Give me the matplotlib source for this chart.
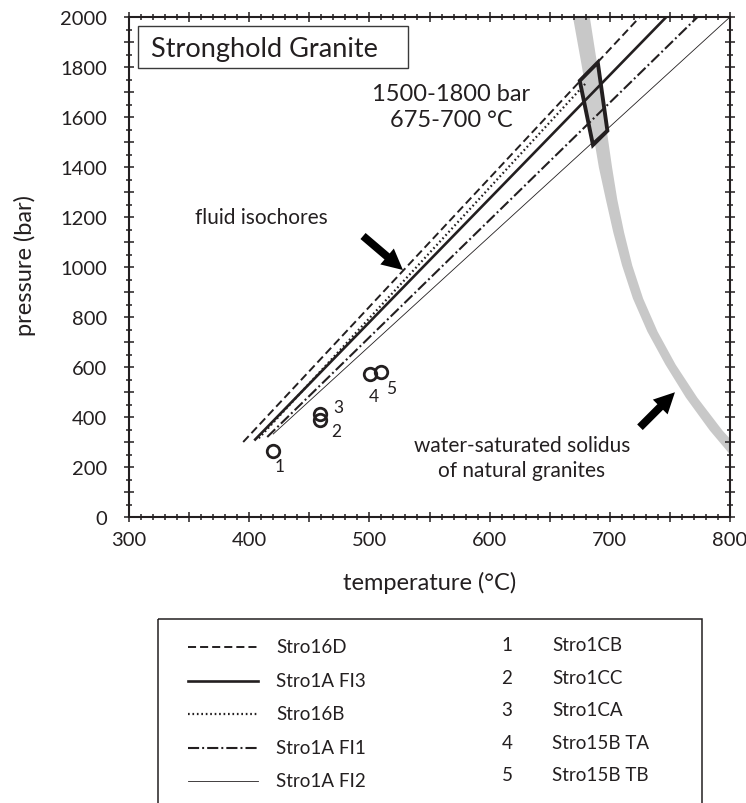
import matplotlib
matplotlib.use('Agg')
import matplotlib.pyplot as plt
from matplotlib.patches import Polygon, Rectangle, FancyArrowPatch, ArrowStyle
from matplotlib.ticker import MultipleLocator, FuncFormatter

plt.rcParams['font.family'] = ['Lato', 'DejaVu Sans']
plt.rcParams['lines.scale_dashes'] = False

INK = '#231f20'

# ---------------- data ----------------
iso_names = ['Stro16D', 'Stro1A FI3', 'Stro16B', 'Stro1A FI1', 'Stro1A FI2']
iso_T_start = [395, 405, 408, 415, 420]
iso_P_start = [300, 310, 315, 320, 332]
iso_T_end = [725, 747, 680, 773, 800]
iso_P_end = [2000, 2000, 1735, 2000, 2000]

incl_ids = ['1', '2', '3', '4', '5']
incl_names = ['Stro1CB', 'Stro1CC', 'Stro1CA', 'Stro15B TA', 'Stro15B TB']
incl_T = [419.5, 459, 459, 500.5, 510]
incl_P = [265, 389, 412, 572, 579]

solidus_P = [2100, 2000, 1800, 1600, 1400, 1272, 1140, 1008, 876, 744, 612, 480, 348, 250]
solidus_T_left = [666, 669, 676.5, 683.5, 690.5, 696.3, 702.5, 709.8, 718.8, 730.8, 745.8, 762.8, 782.8, 800]
solidus_T_right = [680, 683, 689.5, 695.5, 701.5, 705.8, 711.5, 718.3, 727.3, 739.3, 754.3, 772.3, 793.3, 812]

box_T = [675, 690, 698, 686]
box_P = [1745, 1818, 1545, 1488]

# ---------------- styles ----------------
iso_styles = [
    dict(color=INK, lw=1.4, dashes=[5.8, 2.9]),
    dict(color=INK, lw=1.9, linestyle='-'),
    dict(color=INK, lw=1.6, dashes=[1.2, 2.0]),
    dict(color=INK, lw=1.5, dashes=[8.0, 2.2, 1.4, 2.2]),
    dict(color=INK, lw=0.6, linestyle='-'),
]
label_offsets = [(5, -11), (11.5, -8), (13, 5), (3, -16), (7, -11)]

W, H = 746, 804
fig = plt.figure(figsize=(W / 100, H / 100), dpi=100)
ax = fig.add_axes([129 / W, 1 - 518 / H, (730 - 129) / W, (518 - 18) / H])

# solidus band
ax.fill_betweenx(solidus_P, solidus_T_left, solidus_T_right, color='#c8c8c8', lw=0, zorder=1)

# P-T box (fill)
ax.add_patch(Polygon(list(zip(box_T, box_P)), closed=True, facecolor='#cccccc', edgecolor='none', zorder=2))

# isochores
for i in range(len(iso_names)):
    ax.plot([iso_T_start[i], iso_T_end[i]], [iso_P_start[i], iso_P_end[i]], zorder=3, **iso_styles[i])

# box edge
ax.add_patch(Polygon(list(zip(box_T, box_P)), closed=True, facecolor='none', edgecolor=INK, lw=2.8, zorder=4,
                     joinstyle='miter'))

# inclusions
ax.plot(incl_T, incl_P, 'o', ms=9, mfc='none', mec=INK, mew=2.0, zorder=5, linestyle='none')
for i in range(len(incl_ids)):
    ax.annotate(incl_ids[i], (incl_T[i], incl_P[i]), xytext=label_offsets[i], textcoords='offset points',
                ha='center', va='center', fontsize=12.5, color=INK)

# arrows
astyle = ArrowStyle.Simple(head_length=1.0, head_width=1.0, tail_width=0.38)
for tail, head in [((494.7, 1124), (527.9, 988)), ((725.1, 359), (754.2, 499))]:
    ax.add_patch(FancyArrowPatch(tail, head, arrowstyle=astyle, mutation_scale=15, color='black', lw=0,
                                 shrinkA=0, shrinkB=0, zorder=6))

# annotations
ax.text(568, 1695, '1500-1800 bar', ha='center', va='center', fontsize=17, color=INK)
ax.text(568, 1590, '675-700 °C', ha='center', va='center', fontsize=17, color=INK)
ax.text(410, 1200, 'fluid isochores', ha='center', va='center', fontsize=15, color=INK)
ax.text(627, 288, 'water-saturated solidus', ha='center', va='center', fontsize=15, color=INK)
ax.text(627, 188, 'of natural granites', ha='center', va='center', fontsize=15, color=INK)

# axes formatting
ax.set_xlim(300, 800)
ax.set_ylim(0, 2000)
ax.xaxis.set_major_locator(MultipleLocator(50))
ax.xaxis.set_minor_locator(MultipleLocator(10))
ax.yaxis.set_major_locator(MultipleLocator(100))
ax.yaxis.set_minor_locator(MultipleLocator(50))
ax.xaxis.set_major_formatter(FuncFormatter(lambda v, p: f'{v:.0f}' if abs(v % 100) < 1e-6 else ''))
ax.yaxis.set_major_formatter(FuncFormatter(lambda v, p: f'{v:.0f}' if abs(v % 200) < 1e-6 else ''))
ax.tick_params(which='both', direction='inout', top=True, right=True, color=INK, width=1.1,
               labelsize=14.5, labelcolor=INK)
ax.tick_params(which='major', length=7.5)
ax.tick_params(which='minor', length=4.5)
ax.tick_params(axis='y', which='both', pad=12)
ax.tick_params(axis='x', which='both', pad=6)
for s in ax.spines.values():
    s.set_linewidth(1.5)
    s.set_color(INK)

fig.text(25 / W, 1 - 265 / H, 'pressure (bar)', rotation=90, ha='center', va='center', fontsize=17, color=INK)
fig.text(430 / W, 1 - 583 / H, 'temperature (°C)', ha='center', va='center', fontsize=17, color=INK)

# overlay in pixel coordinates for title box and legend
ov = fig.add_axes([0, 0, 1, 1])
ov.set_xlim(0, W)
ov.set_ylim(H, 0)
ov.axis('off')

ov.add_patch(Rectangle((138, 27), 270, 42, facecolor='white', edgecolor='#3a3a3a', lw=1.0))
ov.text(264, 49, 'Stronghold Granite', ha='center', va='center', fontsize=19.5, color=INK)

ov.add_patch(Rectangle((158, 620), 544, 220, facecolor='none', edgecolor=INK, lw=1.1, clip_on=False))
for i in range(len(iso_names)):
    y = 648 + i * 33.5
    ov.plot([188, 258], [y, y], **iso_styles[i])
    ov.text(276, y, iso_names[i], ha='left', va='center', fontsize=13.5, color=INK)
for i in range(len(incl_ids)):
    y = 646 + i * 32.5
    ov.text(507, y, incl_ids[i], ha='center', va='center', fontsize=13.5, color=INK)
    ov.text(552, y, incl_names[i], ha='left', va='center', fontsize=13.5, color=INK)

fig.savefig('out.png', dpi=100)
